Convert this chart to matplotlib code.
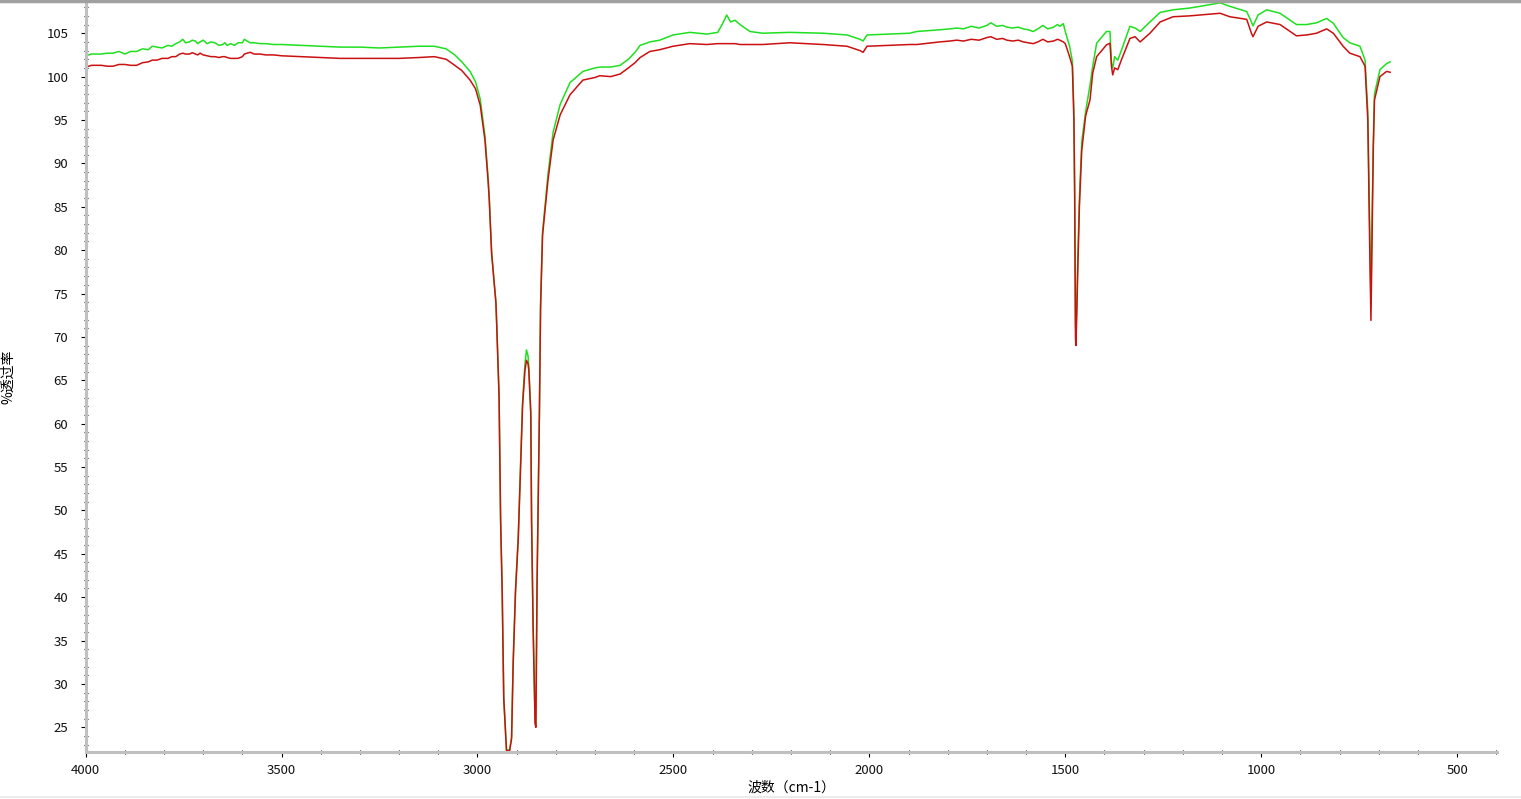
import matplotlib
matplotlib.use("Agg")
from matplotlib import pyplot as plt
from matplotlib.ticker import MultipleLocator
from matplotlib.lines import Line2D

plt.rcParams['font.family'] = ['Noto Sans CJK SC', 'DejaVu Sans']

# 波数 (cm-1)
wavenumber = [4000, 3985, 3960, 3945, 3930, 3915, 3900, 3885, 3870, 3855,
              3840, 3830, 3818, 3805, 3790, 3780, 3770, 3760, 3752, 3745,
              3735, 3728, 3720, 3714, 3708, 3700, 3690, 3680, 3670, 3660,
              3650, 3645, 3639, 3630, 3620, 3611, 3600, 3595, 3588, 3580,
              3570, 3555, 3540, 3520, 3500, 3453,
              3400, 3350, 3300, 3250, 3200, 3150,
              3110, 3080, 3058, 3040, 3019, 3005, 2993, 2981, 2973, 2970,
              2964, 2957, 2953, 2951, 2945, 2941, 2937, 2933, 2926, 2918,
              2913, 2909, 2903, 2896, 2890, 2885, 2879, 2875, 2871, 2869,
              2864, 2862, 2858, 2853, 2851, 2848, 2845, 2842, 2839, 2834,
              2825, 2820, 2807, 2789, 2764, 2731, 2700, 2688, 2660, 2636,
              2615, 2598, 2585, 2560, 2535, 2501, 2458, 2415, 2387, 2374,
              2364, 2354, 2343, 2330, 2305, 2272, 2203, 2118, 2057, 2024,
              2016, 2006, 1948, 1897, 1879,
              1820, 1795, 1777, 1760, 1740, 1720, 1700, 1690, 1675, 1660,
              1649, 1634, 1620, 1607, 1595, 1582, 1570, 1557, 1545, 1530,
              1520, 1514, 1505, 1500,
              1489, 1482, 1478, 1476,
              1474, 1473, 1471, 1468, 1464, 1458, 1448, 1437, 1430, 1420,
              1395, 1386, 1382, 1379, 1374, 1366, 1357, 1335, 1322, 1309,
              1284, 1258, 1225, 1183, 1156, 1105, 1080, 1037, 1025, 1021,
              1008, 986, 952, 910, 884, 859, 833, 816, 791, 774,
              748, 735, 728, 723, 720, 717, 714, 711, 697, 680,
              671]

# 红色样品
red_t = [101.1, 101.3, 101.3, 101.2, 101.2, 101.4, 101.4, 101.3, 101.3, 101.6,
         101.7, 101.9, 101.9, 102.1, 102.1, 102.3, 102.3, 102.6, 102.7, 102.6,
         102.6, 102.75, 102.6, 102.5, 102.7, 102.5, 102.4, 102.3, 102.3, 102.2,
         102.3, 102.3, 102.2, 102.1, 102.1, 102.1, 102.3, 102.6, 102.7, 102.8,
         102.6, 102.6, 102.5, 102.5, 102.4, 102.3,
         102.2, 102.1, 102.1, 102.1, 102.1, 102.2,
         102.3, 102.0, 101.3, 100.7, 99.6, 98.6, 96.7, 92.7, 88.0, 85.8,
         79.6, 75.9, 73.9, 71.4, 63.2, 48.8, 40.6, 28.3, 22.3, 22.3,
         23.7, 32.3, 40.6, 46.7, 55.0, 62.0, 66.1, 67.3, 66.9, 66.1,
         61.1, 48.8, 36.4, 25.4, 25.0, 41.5, 50.9, 61.1, 73.5, 81.7,
         85.8, 88.1, 92.7, 95.6, 97.9, 99.6, 99.9, 100.1, 100.0, 100.3,
         101.0, 101.6, 102.2, 102.9, 103.1, 103.5, 103.8, 103.7, 103.8, 103.8,
         103.8, 103.8, 103.8, 103.7, 103.7, 103.7, 103.9, 103.7, 103.5, 103.0,
         102.8, 103.5, 103.6, 103.7, 103.7,
         104.0, 104.1, 104.2, 104.1, 104.3, 104.2, 104.5, 104.6, 104.3, 104.4,
         104.2, 104.1, 104.2, 104.0, 103.9, 103.8, 104.0, 104.3, 104.0, 104.1,
         104.3, 104.2, 104.0, 103.8,
         102.3, 101.2, 95.0, 86.0,
         70.0, 69.0, 72.0, 78.0, 85.0, 91.5, 95.5, 97.3, 100.4, 102.3,
         103.65, 103.85, 101.15, 100.2, 101.0, 100.8, 101.9, 104.4, 104.6, 104.0,
         105.0, 106.3, 106.9, 107.0, 107.1, 107.3, 106.9, 106.6, 105.0, 104.6,
         105.8, 106.3, 106.0, 104.7, 104.8, 105.0, 105.5, 105.0, 103.5, 102.7,
         102.3, 101.2, 95.0, 80.0, 71.9, 82.0, 91.6, 97.3, 100.0, 100.6,
         100.5]

# 绿色样品
green_t = [102.4, 102.6, 102.6, 102.7, 102.7, 102.9, 102.6, 102.9, 102.9, 103.2,
           103.1, 103.5, 103.4, 103.3, 103.6, 103.5, 103.8, 104.0, 104.3, 103.9,
           104.0, 104.2, 104.1, 103.8, 104.0, 104.2, 103.8, 104.0, 103.9, 103.6,
           103.7, 103.9, 103.6, 103.8, 103.6, 103.9, 103.9, 104.3, 104.1, 103.9,
           103.9, 103.8, 103.8, 103.7, 103.7, 103.6,
           103.5, 103.4, 103.4, 103.3, 103.4, 103.5,
           103.5, 103.2, 102.5, 101.7, 100.6, 99.4, 97.4, 93.2, 88.4, 86.1,
           79.9, 76.1, 74.1, 71.6, 63.4, 49.0, 40.8, 28.5, 22.4, 22.4,
           23.9, 32.5, 40.9, 47.0, 55.4, 62.5, 66.8, 68.5, 67.8, 66.5,
           61.4, 49.0, 36.6, 25.6, 25.3, 41.8, 51.2, 61.4, 73.8, 82.1,
           86.4, 88.8, 93.6, 96.8, 99.3, 100.6, 101.0, 101.1, 101.1, 101.3,
           102.0, 102.8, 103.6, 104.0, 104.2, 104.8, 105.1, 104.9, 105.1, 106.15,
           107.1, 106.3, 106.5, 106.0, 105.2, 105.0, 105.1, 105.0, 104.8, 104.3,
           104.1, 104.8, 104.9, 105.0, 105.2,
           105.4, 105.5, 105.6, 105.5, 105.8, 105.6, 105.9, 106.2, 105.8, 105.9,
           105.7, 105.6, 105.7, 105.5, 105.4, 105.2, 105.5, 105.9, 105.5, 105.7,
           106.0, 105.8, 106.1, 105.2,
           103.5, 101.8, 96.0, 86.5,
           71.5, 70.5, 73.0, 79.0, 86.0, 92.5, 96.0, 99.0, 101.2, 103.85,
           105.2, 105.2, 101.5, 101.0, 102.3, 101.9, 103.0, 105.8, 105.6, 105.2,
           106.3, 107.4, 107.7, 107.9, 108.1, 108.5, 108.1, 107.5, 106.3, 105.85,
           107.1, 107.7, 107.3, 106.0, 106.0, 106.2, 106.7, 106.15, 104.5, 103.9,
           103.5, 101.9, 96.0, 82.0, 73.9, 84.0, 92.5, 98.0, 100.8, 101.5,
           101.7]

x_ticks = [4000, 3500, 3000, 2500, 2000, 1500, 1000, 500]
y_ticks = [25, 30, 35, 40, 45, 50, 55, 60, 65, 70, 75, 80, 85, 90, 95, 100, 105]

fig = plt.figure(figsize=(15.21, 7.99), dpi=100)
ax = fig.add_axes([0.0563, 0.0588, 0.928, 0.9387])

ax.plot(wavenumber, green_t, color='#1ee01e', lw=1.1)
ax.plot(wavenumber, red_t, color='#cc1010', lw=1.1)

ax.set_xlim(4000, 398)
ax.set_ylim(22.15, 108.6)

ax.set_xticks(x_ticks)
ax.set_yticks(y_ticks)
ax.xaxis.set_minor_locator(MultipleLocator(100))
ax.yaxis.set_minor_locator(MultipleLocator(1))

for s in ['top', 'right']:
    ax.spines[s].set_visible(False)
for s in ['left', 'bottom']:
    ax.spines[s].set_color('#c0c0c0')
    ax.spines[s].set_linewidth(2.2)

ax.tick_params(which='major', direction='out', length=3.5, width=0.8, color='black',
               labelsize=9.5, labelcolor='#111111')
ax.tick_params(axis='y', which='major', pad=9)
ax.tick_params(axis='x', which='major', pad=5)
ax.tick_params(which='minor', direction='inout', length=3, width=0.8, color='black')

ax.set_xlabel('波数（cm-1）', fontsize=10, labelpad=3)
ax.set_ylabel('%透过率', fontsize=10)
ax.yaxis.set_label_coords(-0.05, 0.5)

# 顶部灰色边框和底部浅色边
fig.add_artist(Line2D([0, 1], [0.999, 0.999], transform=fig.transFigure,
                      color='#a0a0a0', lw=2.5))
fig.add_artist(Line2D([0, 1], [0.002, 0.002], transform=fig.transFigure,
                      color='#ececec', lw=1.5))

fig.savefig('out.png', dpi=100, facecolor='white')
